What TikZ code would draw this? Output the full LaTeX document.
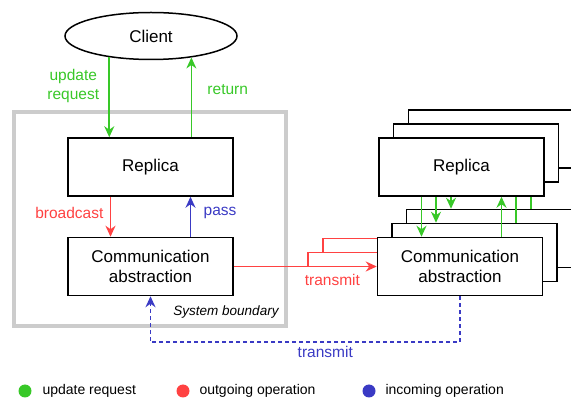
\documentclass[tikz,border=0pt]{standalone}
\usepackage{fontspec}
\setmainfont{Liberation Sans}
\usetikzlibrary{shapes.geometric,arrows.meta}

\definecolor{updgreen}{RGB}{56,200,40}
\definecolor{outred}{RGB}{255,66,66}
\definecolor{inblue}{RGB}{58,58,196}
\definecolor{bndgray}{RGB}{204,204,204}

\tikzset{
	box/.style={shape=rectangle,draw=black,fill=white,line width=1.5pt,minimum width=165pt,minimum height=58pt,align=center,font=\fontsize{17}{20}\selectfont},
	lbl/.style={font=\fontsize{15.5}{19}\selectfont},
	tip/.style={-{Stealth[length=11pt,width=10pt,inset=3.5pt]}},
	updline/.style={draw=updgreen,line width=1.6pt},
	outline/.style={draw=outred,line width=1.6pt},
	inline/.style={draw=inblue,line width=1.6pt},
	dot/.style={shape=circle,inner sep=0pt,minimum size=13pt},
}

\begin{document}
\begin{tikzpicture}[x=1pt,y=-1pt]
	\useasboundingbox (0,0) rectangle (571,403);

	% system boundary
	\draw[draw=bndgray,line width=4.5pt] (14,112) rectangle (286,326);
	\node[font=\fontsize{13.5}{16}\selectfont\itshape] (sysb) at (226,312) {System boundary};

	\node[shape=ellipse,draw=black,line width=1.5pt,minimum width=172pt,minimum height=47pt,font=\fontsize{17}{20}\selectfont] (client) at (151,36) {Client};
	\node[box] (rep) at (150.5,167)   {Replica};
	\node[box] (com) at (150.5,266.5) {Communication\\abstraction};

	% other replicas, back to front
	\node[box] (rep3) at (491,139)   {};
	\node[box] (rep2) at (476,153)   {};
	\node[box] (com3) at (489,238.5) {};
	\node[box] (com2) at (474.5,252.5) {};

	\draw[tip,updline] ([xshift=-40pt]rep3.south) -- ([xshift=-40pt]rep3.south |- com3.north);
	\draw[tip,updline] ([xshift=-40pt]rep2.south) -- ([xshift=-40pt]rep2.south |- com2.north);
	\draw[tip,updline] ([xshift=40pt]rep3.south |- com3.north) -- ([xshift=40pt]rep3.south);
	\draw[tip,updline] ([xshift=40pt]rep2.south |- com2.north) -- ([xshift=40pt]rep2.south);
	\draw[outline] ([xshift=74pt]com.east) |- (com2.west);
	\draw[outline] ([xshift=89pt]com.east |- com2.west) |- (com3.west);

	\node[box] (rep1) at (461.5,167)  {Replica};
	\node[box] (com1) at (460,266.5) {Communication\\abstraction};

	\draw[tip,updline] ([xshift=-40pt]rep1.south) -- ([xshift=-40pt]rep1.south |- com1.north);
	\draw[tip,updline] ([xshift=40pt]rep1.south |- com1.north) -- ([xshift=40pt]rep1.south);

	% client and local replica
	\draw[tip,updline] (client.207.5) -- node[lbl,text=updgreen,left,pos=0.36,align=center,xshift=-6pt]{update\\request} (client.207.5 |- rep.north);
	\draw[tip,updline] (client.332.5 |- rep.north) -- node[lbl,text=updgreen,right,pos=0.6,xshift=12pt]{return} (client.332.5);
	\draw[tip,outline] ([xshift=-40pt]rep.south) -- node[lbl,text=outred,left,xshift=-3pt,yshift=4pt]{broadcast} ([xshift=-40pt]rep.south |- com.north);
	\draw[tip,inline] ([xshift=40pt]com.north) -- node[lbl,text=inblue,right,xshift=9pt,yshift=4pt]{pass} ([xshift=40pt]com.north |- rep.south);

	\draw[tip,outline] (com.east) -- node[lbl,text=outred,below,pos=0.69,yshift=-4pt]{transmit} (com1.west);
	\draw[tip,inline,dash pattern=on 4pt off 3pt] (com1.south) -- ++(0,46) -| node[lbl,text=inblue,below,pos=0.25,xshift=20pt]{transmit} (com.south);

	% legend
	\node[dot,fill=updgreen] (ldot1) at (25,391)  {};
	\node[dot,fill=outred]   (ldot2) at (183,391) {};
	\node[dot,fill=inblue]   (ldot3) at (369,391) {};
	\node[anchor=west,font=\fontsize{14}{16}\selectfont] (ltxt1) at (39,391)  {update request};
	\node[anchor=west,font=\fontsize{14}{16}\selectfont] (ltxt2) at (196,391) {outgoing operation};
	\node[anchor=west,font=\fontsize{14}{16}\selectfont] (ltxt3) at (382,391) {incoming operation};
\end{tikzpicture}
\end{document}
